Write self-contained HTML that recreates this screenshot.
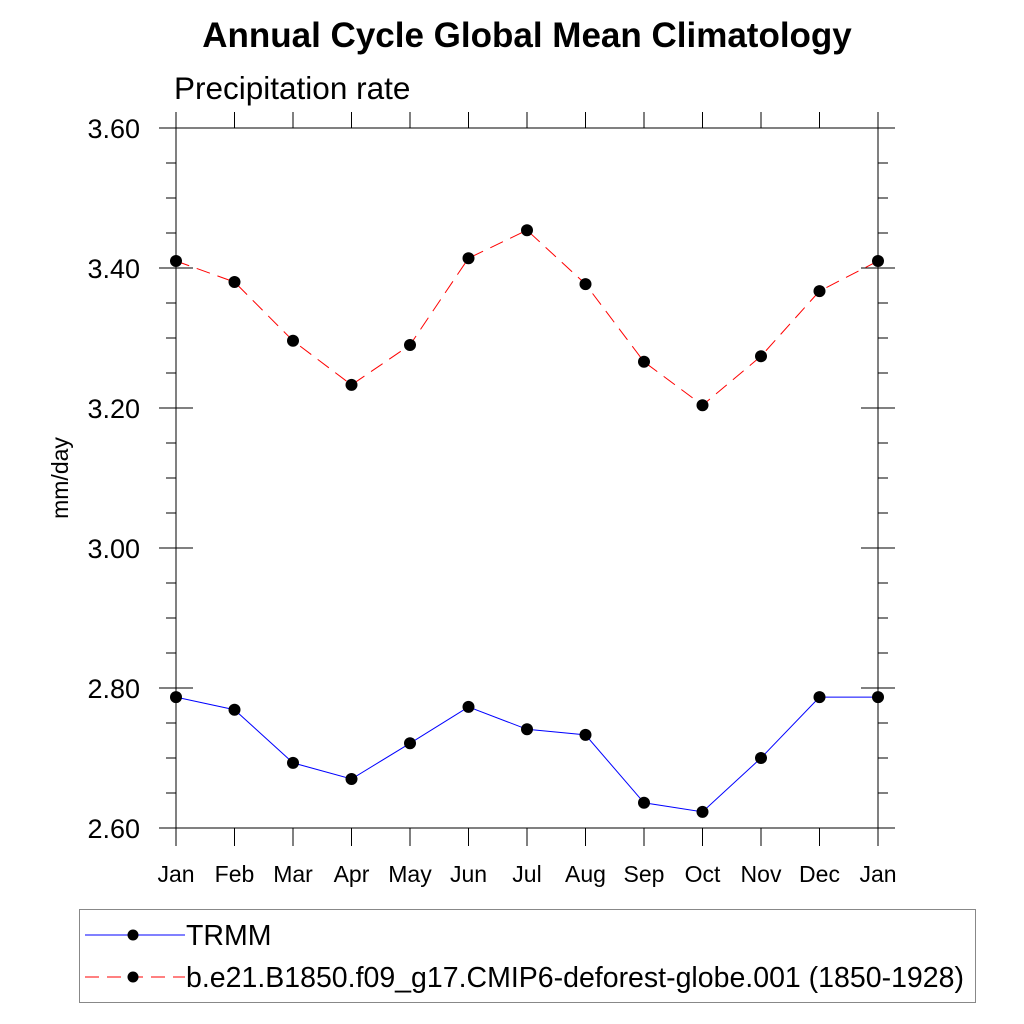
<!DOCTYPE html>
<html><head><meta charset="utf-8"><style>body{margin:0;background:#fff}svg{display:block;font-family:"Liberation Sans",sans-serif}</style></head>
<body>
<svg id="c" width="1024" height="1024">
<text x="527" y="47" font-size="35" font-weight="bold" text-anchor="middle">Annual Cycle Global Mean Climatology</text>
<text x="174" y="99" font-size="31.5">Precipitation rate</text>
<text transform="translate(68,478) rotate(-90)" font-size="23" text-anchor="middle">mm/day</text>
<g id="axes"></g><g id="series"></g>
<rect x="79.5" y="909.5" width="896" height="93" fill="none" stroke="#888"/>
<g>
<line x1="85" y1="935" x2="185" y2="935" stroke="#00f" stroke-width="1"/><circle cx="133" cy="935" r="5.5"/>
<text x="186" y="945" font-size="28.5">TRMM</text></g>
<g>
<line x1="85" y1="977" x2="185" y2="977" stroke="#f00" stroke-dasharray="14,8"/><circle cx="133" cy="977" r="5.5"/>
<text x="186" y="987" font-size="28.5">b.e21.B1850.f09_g17.CMIP6-deforest-globe.001 (1850-1928)</text></g>
</svg>
<script>
const months=["Jan","Feb","Mar","Apr","May","Jun","Jul","Aug","Sep","Oct","Nov","Dec","Jan"];
const trmm=[2.787,2.769,2.693,2.670,2.721,2.773,2.741,2.733,2.636,2.623,2.700,2.787,2.787];
const model=[3.410,3.380,3.296,3.233,3.290,3.414,3.454,3.377,3.266,3.204,3.274,3.367,3.410];
const yTicks=["2.60","2.80","3.00","3.20","3.40","3.60"];
const NS="http://www.w3.org/2000/svg";
const X0=176,X1=878,Y0=828,Y1=128,ymin=2.6,ymax=3.6;
const xs=i=>X0+(X1-X0)*i/(months.length-1);
const ys=v=>Y0-(v-ymin)/(ymax-ymin)*(Y0-Y1);
function mk(p,t,a){const e=document.createElementNS(NS,t);for(const k in a)e.setAttribute(k,a[k]);p.appendChild(e);return e;}
const ax=document.getElementById('axes');
mk(ax,'line',{x1:159,y1:Y1,x2:895,y2:Y1,stroke:'#000'});
mk(ax,'line',{x1:159,y1:Y0,x2:895,y2:Y0,stroke:'#000'});
mk(ax,'line',{x1:X0,y1:112,x2:X0,y2:845,stroke:'#000'});
mk(ax,'line',{x1:X1,y1:112,x2:X1,y2:845,stroke:'#000'});
yTicks.forEach(t=>{const y=ys(+t);
 mk(ax,'line',{x1:159,y1:y,x2:193,y2:y,stroke:'#000'});
 mk(ax,'line',{x1:861,y1:y,x2:895,y2:y,stroke:'#000'});
 const e=mk(ax,'text',{x:140,y:y+10,'font-size':27,'text-anchor':'end'});e.textContent=t;
 
 });
for(let v=ymin;v<ymax-0.001;v+=0.05){const y=ys(v);if(Math.abs(((v-ymin)/0.2)-Math.round((v-ymin)/0.2))<0.01)continue;
 mk(ax,'line',{x1:166,y1:y,x2:176,y2:y,stroke:'#000'});mk(ax,'line',{x1:878,y1:y,x2:888,y2:y,stroke:'#000'});}
months.forEach((m,i)=>{const x=xs(i);
 mk(ax,'line',{x1:x,y1:112,x2:x,y2:128,stroke:'#000'});
 mk(ax,'line',{x1:x,y1:828,x2:x,y2:846,stroke:'#000'});
 const e=mk(ax,'text',{x:x,y:882,'font-size':23,'text-anchor':'middle'});e.textContent=m;
 
 });
const sg=document.getElementById('series');
function series(d,col,dash,name){
 const g=mk(sg,'g',{});
 
 
 mk(g,'polyline',{points:d.map((v,i)=>xs(i)+','+ys(v)).join(' '),fill:'none',stroke:col,'stroke-dasharray':dash});
 d.forEach((v,i)=>{const c=mk(g,'circle',{cx:xs(i),cy:ys(v),r:6});
 
 });
}
series(model,'#f00','14,8','model-series');
series(trmm,'#00f','none','trmm-series');
</script>
</body></html>
